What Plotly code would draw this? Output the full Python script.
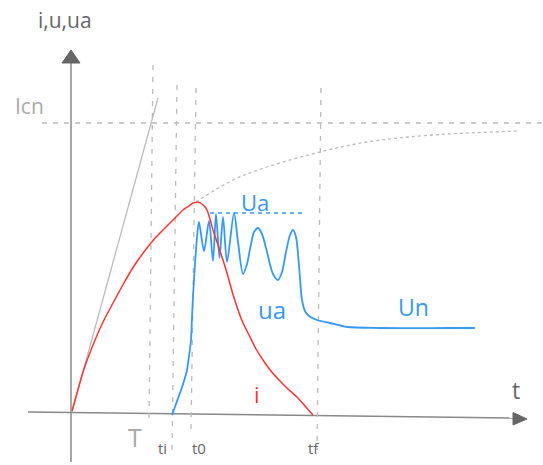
import plotly.graph_objects as go

# chart units: t = horizontal distance from origin, v = height above time axis
red_t = [0, 11, 21, 31, 41, 53, 64, 75, 85, 95, 103, 111, 117, 121, 126, 130, 133, 135, 138, 141, 146, 151, 155, 160, 165, 171, 178, 184, 191, 199, 208, 216, 225, 233, 241]
red_v = [1, 40, 67, 90, 109, 131, 149, 164, 176, 186, 194, 202, 206, 209, 210, 208, 205, 202, 193, 182, 167, 152, 139, 121, 105, 89, 75, 63, 52, 41, 31, 23, 15, 6, -3]

blue_t = [100, 104, 108, 112, 115, 117, 119, 120, 121, 122, 123, 124, 125.5, 127, 132, 137, 141, 144, 147.5, 151, 155, 162,
          166, 171, 175, 179, 182, 186, 190, 195, 201, 206, 210, 214, 218, 221, 224, 226, 228, 230, 233, 237, 245, 258, 275, 308, 375, 403]
blue_v = [-3, 8, 19, 31, 42, 56, 72, 95, 115, 132, 148, 162, 180, 190, 161, 191, 151, 198, 154, 195, 150, 199,
          170, 138, 148, 168, 180, 184, 178, 160, 138, 132, 140, 160, 177, 182, 175, 158, 134, 112, 101, 96, 92, 89, 85, 84, 84, 84]

prosp_t = [124, 161, 195, 248, 295, 361, 448]
prosp_v = [210, 232, 245, 260, 270, 277, 281]

tangent_t = [0, 86]
tangent_v = [0, 314]

icn_level = 289
icn_span = [-30, 471]
ua_level = 199
ua_span = [138, 231]

vlines_top_t = [81, 105, 124, 249]
vlines_top_v = [347, 327, 324, 324]
vlines_bot_t = [77, 100, 119, 245]
vlines_bot_v = [-8, -40, -18, -38]

GRAY = "#bbbbbb"
AX = "#888888"
BLUE = "#3399ff"
RED = "#ff3333"

fig = go.Figure()

# axes
fig.add_trace(go.Scatter(x=[-1, -1], y=[-50, 350], mode="lines", line=dict(color=AX, width=1.5), hoverinfo="skip"))
fig.add_trace(go.Scatter(x=[-44, 443], y=[0, -6], mode="lines", line=dict(color=AX, width=1.5), hoverinfo="skip"))
fig.add_trace(go.Scatter(x=[-1, -10, 8, -1], y=[362, 349, 349, 362], mode="lines", fill="toself",
                         fillcolor="#666666", line=dict(color="#666666", width=1), hoverinfo="skip"))
fig.add_trace(go.Scatter(x=[455, 441, 441, 455], y=[-7, -0.5, -13, -7], mode="lines", fill="toself",
                         fillcolor="#666666", line=dict(color="#666666", width=1), hoverinfo="skip"))

# reference dashed lines
fig.add_trace(go.Scatter(x=icn_span, y=[icn_level, icn_level], mode="lines",
                         line=dict(color=GRAY, width=1.3, dash="5px,6px"), hoverinfo="skip"))
for tt, tv, bt, bv in zip(vlines_top_t, vlines_top_v, vlines_bot_t, vlines_bot_v):
    fig.add_trace(go.Scatter(x=[tt, bt], y=[tv, bv], mode="lines",
                             line=dict(color=GRAY, width=1.3, dash="5px,7px"), hoverinfo="skip"))

fig.add_trace(go.Scatter(x=tangent_t, y=tangent_v, mode="lines", line=dict(color=GRAY, width=1.3), hoverinfo="skip"))
fig.add_trace(go.Scatter(x=prosp_t, y=prosp_v, mode="lines", line_shape="spline",
                         line=dict(color=GRAY, width=1.3, dash="3px,3px"), hoverinfo="skip"))

fig.add_trace(go.Scatter(x=ua_span, y=[ua_level, ua_level], mode="lines",
                         line=dict(color=BLUE, width=1.3, dash="4px,4px"), hoverinfo="skip"))

fig.add_trace(go.Scatter(x=blue_t, y=blue_v, mode="lines", line_shape="spline",
                         line=dict(color=BLUE, width=1.8, smoothing=0.8), hoverinfo="skip"))
fig.add_trace(go.Scatter(x=red_t, y=red_v, mode="lines", line_shape="spline",
                         line=dict(color=RED, width=1.5, smoothing=0.3), hoverinfo="skip"))

labels = ["i,u,ua", "Icn", "Ua", "ua", "Un", "i", "t", "T", "ti", "t0", "tf"]
label_t = [-7, -43, 183, 200, 341, 185, 444, 63, 90, 127, 241]
label_v = [392, 306, 210, 103, 105, 18, 22, -25, -36, -36, -36]
label_color = ["#666666", "#aaaaaa", BLUE, BLUE, BLUE, RED, "#666666", "#aaaaaa", "#666666", "#666666", "#666666"]
label_size = [21, 21, 22, 24, 23, 22, 23, 25, 15, 15, 15]

for txt, tx, ty, c, s in zip(labels, label_t, label_v, label_color, label_size):
    fig.add_annotation(x=tx, y=ty, text=txt, showarrow=False, xanchor="center", yanchor="middle",
                       font=dict(family="Open Sans, DejaVu Sans", size=s, color=c))

fig.update_layout(
    width=543, height=465, autosize=False,
    margin=dict(l=0, r=0, t=0, b=0),
    paper_bgcolor="white", plot_bgcolor="white",
    showlegend=False,
    xaxis=dict(range=[-72, 471], visible=False, fixedrange=True),
    yaxis=dict(range=[-53, 412], visible=False, fixedrange=True),
)

fig.write_html("out.html", config={"displayModeBar": False},
               post_script="document.body.style.margin='0';document.body.style.overflow='hidden';")
